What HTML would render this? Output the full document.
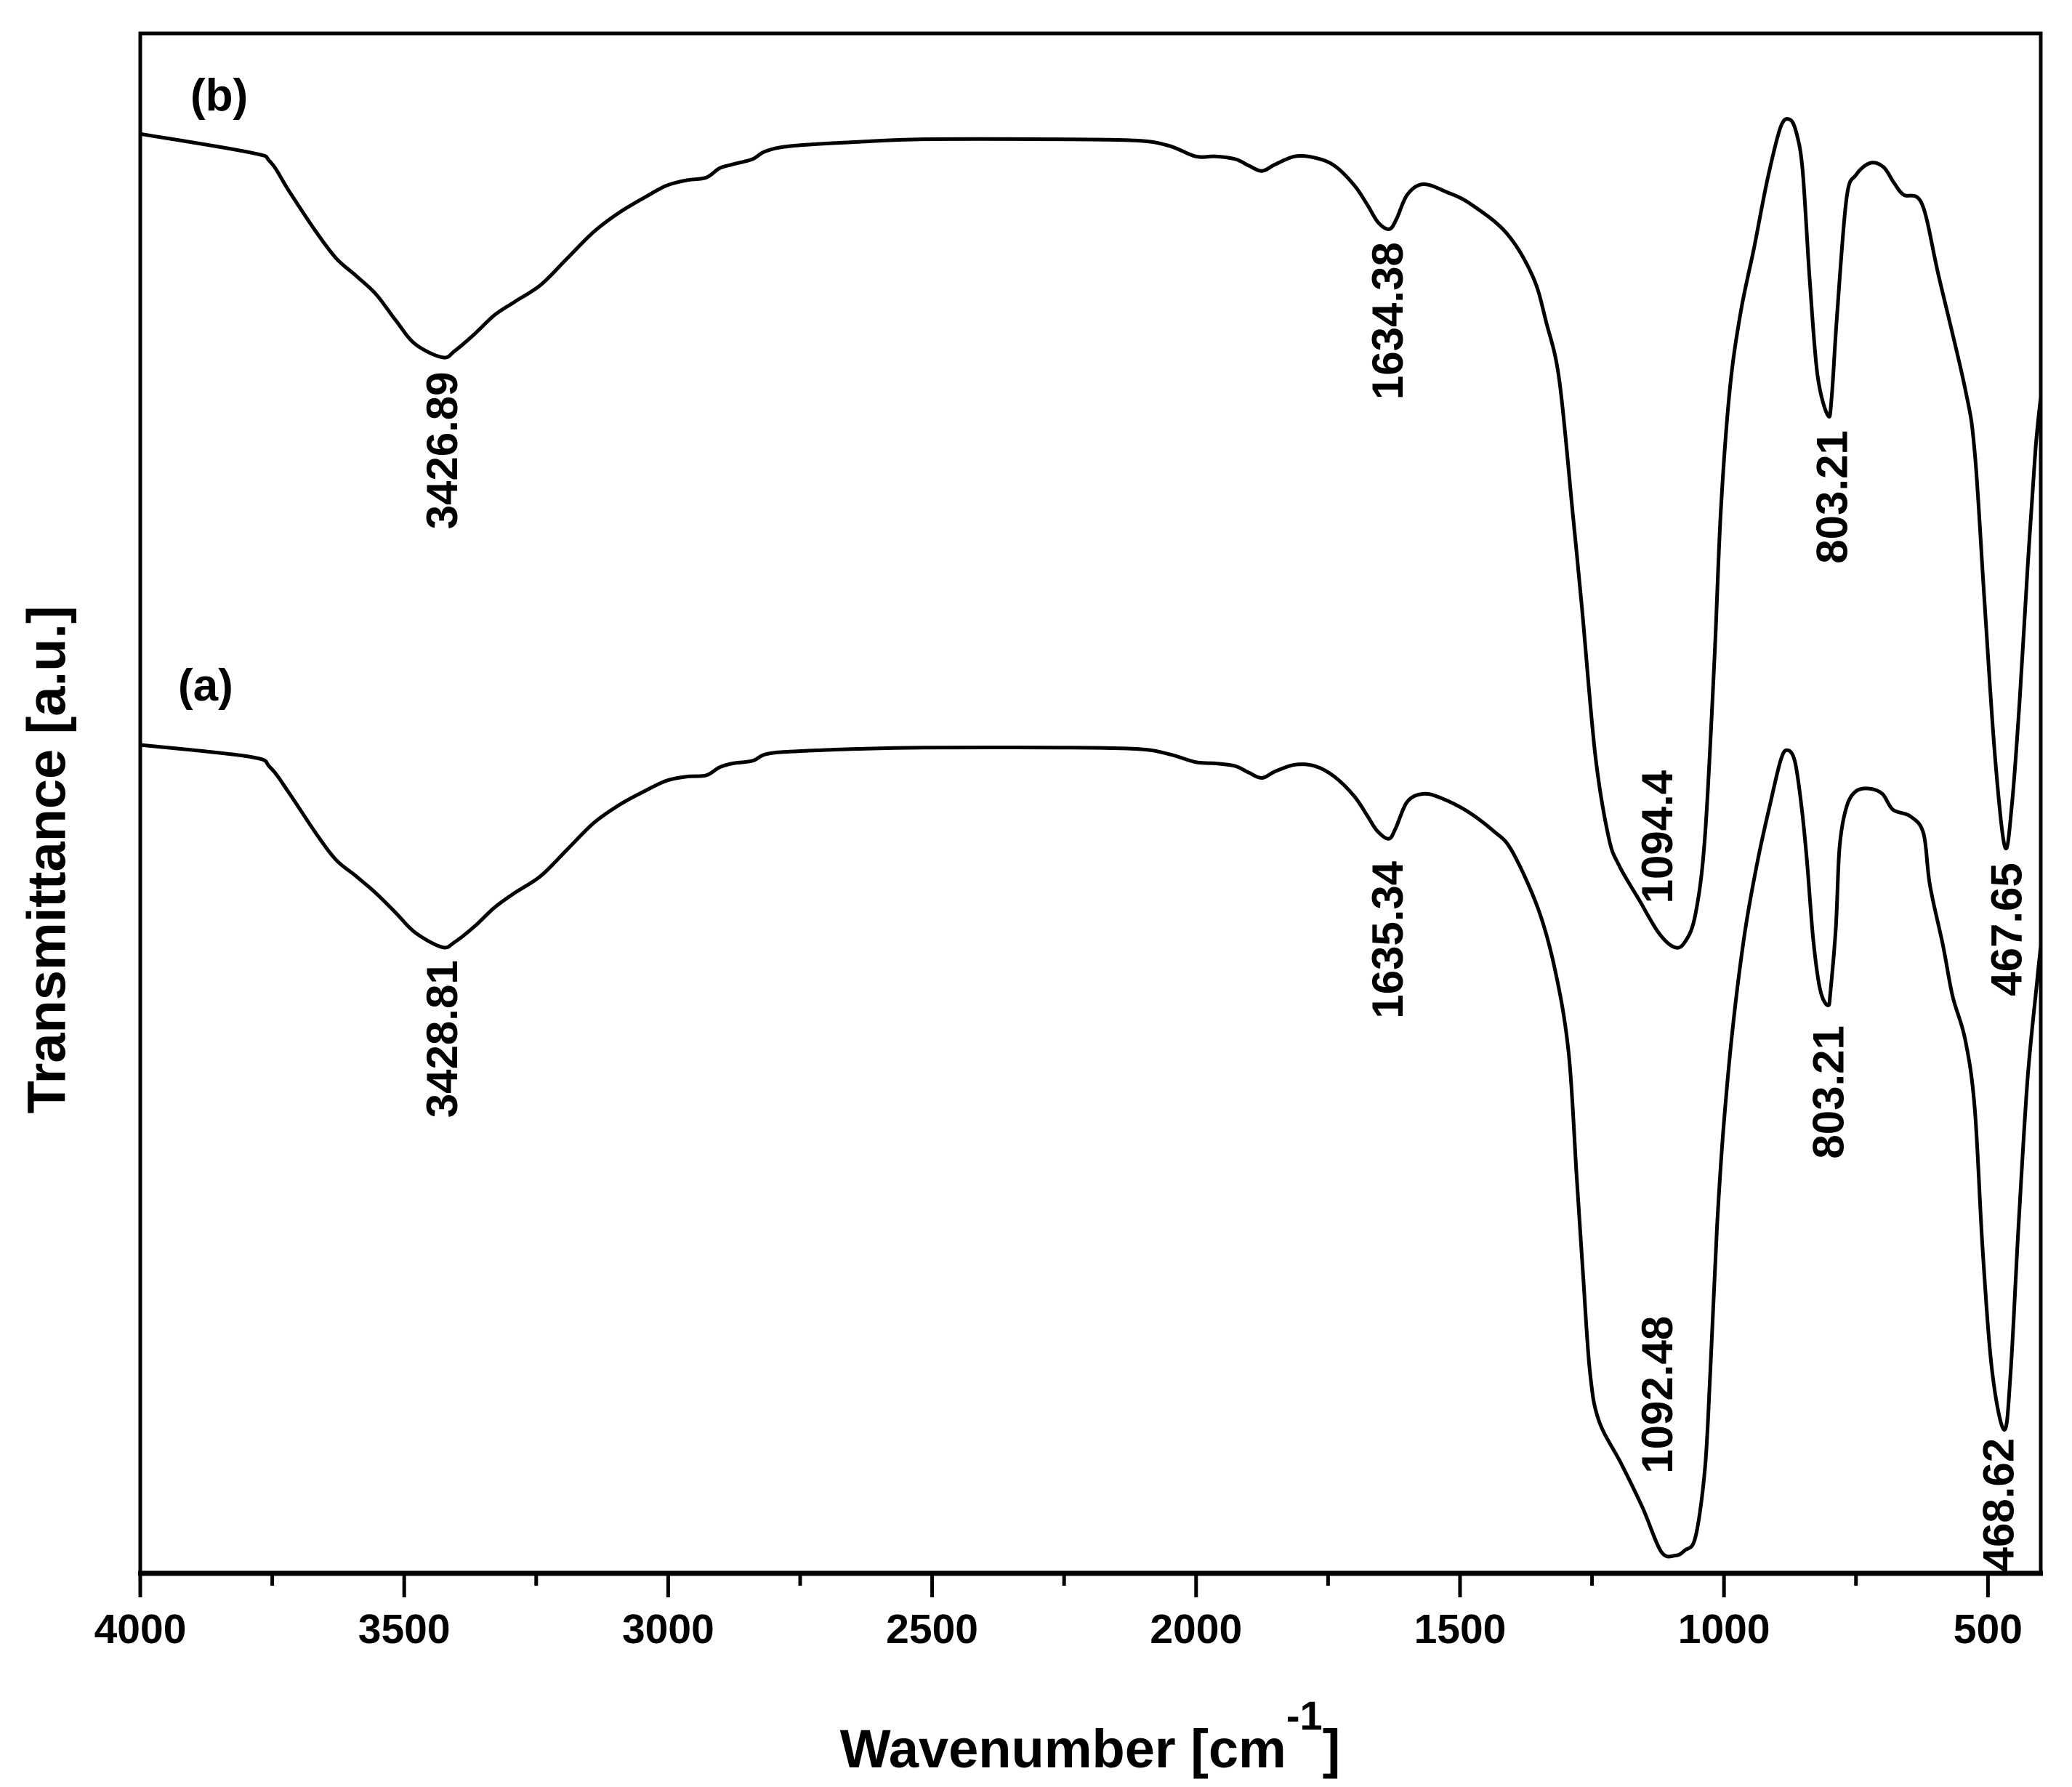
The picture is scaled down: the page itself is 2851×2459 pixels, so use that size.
<!DOCTYPE html>
<html><head><meta charset="utf-8"><style>
html,body{margin:0;padding:0;background:#fff;}
svg{display:block;font-family:"Liberation Sans",Arial,sans-serif;}
</style></head><body>
<svg id="chart" width="2851" height="2459" viewBox="0 0 2851 2459" xmlns="http://www.w3.org/2000/svg">
<rect x="0" y="0" width="2851" height="2459" fill="#fff"/>
<g id="series"></g>
<rect x="193" y="46" width="2615" height="2119" fill="none" stroke="#000" stroke-width="5"/>
<line x1="190" y1="2165" x2="2811" y2="2165" stroke="#000" stroke-width="7"/>
<g id="ticks"></g>
<g id="labels"></g>
<text x="262" y="152" font-size="62" font-weight="bold">(b)</text>
<text x="245" y="964" font-size="62" font-weight="bold">(a)</text>
<text transform="rotate(-90 64 1183)" x="64" y="1183" text-anchor="middle" dominant-baseline="central" font-size="74" font-weight="bold">Transmittance [a.u.]</text>
<text x="1500" y="2432" text-anchor="middle" font-size="74" font-weight="bold">Wavenumber [cm<tspan font-size="56" dy="-52">-1</tspan><tspan dy="52">]</tspan></text>
</svg>
<script>
const waveB=[4000,3792,3754,3717,3667,3629,3592,3554,3516,3479,3427,3404,3366,3329,3291,3241,3191,3141,3091,3040,3003,2965,2928,2903,2878,2840,2815,2765,2640,2514,2264,2113,2051,2001,1963,1926,1900,1875,1850,1813,1775,1738,1700,1675,1655,1634,1620,1600,1570,1525,1480,1412,1362,1337,1312,1287,1269,1244,1219,1199,1161,1124,1094,1074,1054,1036,1018,1006,989,968,943,918,893,876,863,851,838,823,803,796,786,768,750,723,698,678,660,625,593,543,525,507,487,468,455,440,425,410,400];
const transB=[1089,1075,1068,1045,1015,995,982,968,948,930,920,925,938,952,962,975,995,1015,1030,1042,1050,1054,1056,1063,1066,1070,1076,1080,1083,1085,1085,1084,1080,1072,1072,1070,1065,1061,1066,1072,1071,1065,1050,1035,1022,1017,1025,1043,1051,1045,1036,1014,981,947,903,804,730,620,558,536,510,485,474,478,499,558,693,804,896,955,1003,1054,1094,1100,1090,1061,981,907,876,890,951,1040,1058,1067,1064,1052,1043,1036,981,896,848,738,620,550,580,660,760,850,890];
const waveA=[4000,3792,3754,3717,3667,3629,3592,3554,3516,3479,3428,3404,3366,3329,3291,3241,3191,3141,3091,3040,3003,2965,2928,2903,2878,2840,2815,2765,2640,2514,2264,2113,2051,2001,1963,1926,1900,1875,1850,1813,1775,1738,1700,1675,1657,1635,1622,1600,1570,1537,1487,1437,1402,1352,1319,1294,1279,1267,1254,1237,1194,1154,1119,1092,1074,1054,1036,1026,1013,1001,984,961,936,911,893,881,866,853,843,831,818,803,798,788,781,768,750,725,700,680,647,622,610,585,567,543,525,510,492,469,457,442,425,407,400];
const transA=[627,618,610,590,560,540,528,515,500,485,474,478,490,504,515,528,548,568,582,593,600,603,604,610,613,615,620,622,624,625,625,624,620,614,613,611,606,602,607,612,611,603,588,573,562,556,564,584,590,587,577,562,547,503,455,393,300,227,153,116,83,50,17,14,18,28,80,153,264,337,411,484,540,585,615,623,615,580,540,480,442,430,442,490,550,580,592,594,590,578,573,560,521,475,437,404,352,245,153,109,153,264,374,448,475];
const tickLabels=["4000","3500","3000","2500","2000","1500","1000","500"];
const tickValues=[4000,3500,3000,2500,2000,1500,1000,500];
const minorTicks=[3750,3250,2750,2250,1750,1250,750];
const peakText=["3426.89","1634.38","803.21","1094.4","467.65","3428.81","1635.34","803.21","1092.48","468.62"];
const peakWave=[3428,1637,795,1126,465,3428,1637,802,1126,480];
const peakTrans=[790,888,764,507,437,345,420,314,76,2];

const NS="http://www.w3.org/2000/svg";
const X0=193,X1=2808,Y0=2166,Y1=46;
function xs(w){return X0+(4000-w)*(X1-X0)/3600;}
function ys(v){return Y0-v*(Y0-Y1)/1165;}
function pathFrom(wv,tv){
  const p=wv.map((w,i)=>[xs(w),ys(tv[i])]);
  let d="M"+p[0][0].toFixed(1)+","+p[0][1].toFixed(1);
  for(let i=0;i<p.length-1;i++){
    const p0=p[i-1]||p[i],p1=p[i],p2=p[i+1],p3=p[i+2]||p2;
    const c1x=p1[0]+(p2[0]-p0[0])/6,c1y=p1[1]+(p2[1]-p0[1])/6;
    const c2x=p2[0]-(p3[0]-p1[0])/6,c2y=p2[1]-(p3[1]-p1[1])/6;
    d+="C"+c1x.toFixed(1)+","+c1y.toFixed(1)+" "+c2x.toFixed(1)+","+c2y.toFixed(1)+" "+p2[0].toFixed(1)+","+p2[1].toFixed(1);
  }
  return d;
}
const sg=document.getElementById("series");
[[waveB,transB,"series-b-line"],[waveA,transA,"series-a-line"]].forEach(s=>{
  const el=document.createElementNS(NS,"path");
  el.setAttribute("d",pathFrom(s[0],s[1]));
  el.setAttribute("fill","none");el.setAttribute("stroke","#000");
  el.setAttribute("stroke-width","5");el.setAttribute("stroke-linejoin","round");
  
  
  sg.appendChild(el);
});
const tg=document.getElementById("ticks");
tickValues.forEach((v,i)=>{
  const l=document.createElementNS(NS,"line");
  l.setAttribute("x1",xs(v));l.setAttribute("x2",xs(v));
  l.setAttribute("y1",2165);l.setAttribute("y2",2198);
  l.setAttribute("stroke","#000");l.setAttribute("stroke-width","5");
  
  
  tg.appendChild(l);
  const t=document.createElementNS(NS,"text");
  t.setAttribute("x",xs(v));t.setAttribute("y",2261);
  t.setAttribute("text-anchor","middle");t.setAttribute("font-size","57");t.setAttribute("font-weight","bold");
  t.textContent=tickLabels[i];
  
  
  tg.appendChild(t);
});
minorTicks.forEach(v=>{
  const l=document.createElementNS(NS,"line");
  l.setAttribute("x1",xs(v));l.setAttribute("x2",xs(v));
  l.setAttribute("y1",2165);l.setAttribute("y2",2182);
  l.setAttribute("stroke","#000");l.setAttribute("stroke-width","5");
  
  
  tg.appendChild(l);
});
const lg=document.getElementById("labels");
peakText.forEach((s,i)=>{
  const x=xs(peakWave[i]),y=ys(peakTrans[i]);
  const t=document.createElementNS(NS,"text");
  t.setAttribute("x",x);t.setAttribute("y",y);
  t.setAttribute("transform","rotate(-90 "+x+" "+y+")");
  t.setAttribute("dominant-baseline","central");
  t.setAttribute("font-size","60");t.setAttribute("font-weight","bold");
  t.textContent=s;
  
  
  lg.appendChild(t);
});
</script>
</body></html>
